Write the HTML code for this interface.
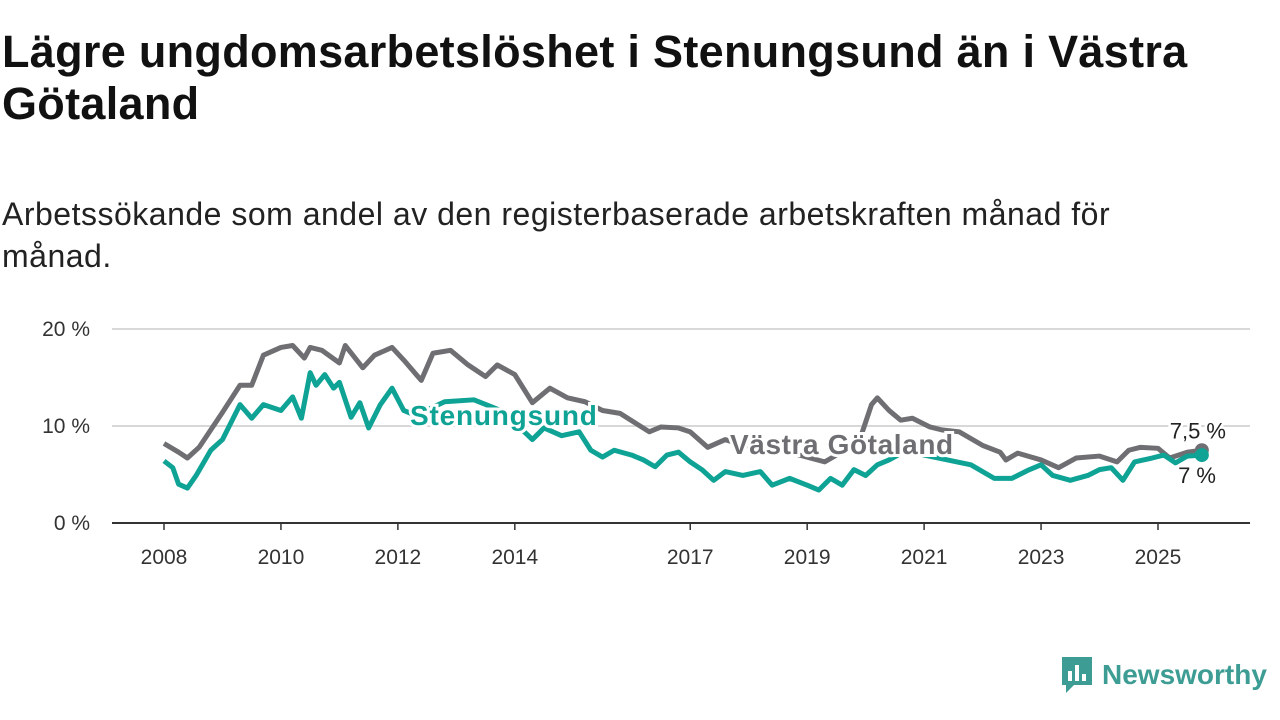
<!DOCTYPE html>
<html><head><meta charset="utf-8"><style>
body{margin:0;width:1280px;height:720px;background:#fff;font-family:"Liberation Sans",sans-serif;overflow:hidden;position:relative}
h1{position:absolute;left:2px;top:26px;margin:0;font-size:45px;line-height:52px;font-weight:bold;color:#111;width:1235px;letter-spacing:0.3px}
.sub{position:absolute;left:2px;top:193px;font-size:32px;line-height:42px;color:#222;width:1175px;letter-spacing:0.5px}
.logo{position:absolute;left:1060px;top:655px;display:flex;align-items:center;font-size:28px;font-weight:bold;color:#3d9d94}
</style></head><body>
<h1>Lägre ungdomsarbetslöshet i Stenungsund än i Västra Götaland</h1>
<div class="sub">Arbetssökande som andel av den registerbaserade arbetskraften månad för månad.</div>
<svg id="chart" width="1280" height="720" style="position:absolute;left:0;top:0"></svg>
<div class="logo"><svg width="34" height="40" viewBox="0 0 34 40"><path d="M2 2h30v28H14l-8 8v-8H2z" fill="#3d9d94"/><rect x="8" y="16" width="4" height="10" fill="#fff"/><rect x="15" y="10" width="4" height="16" fill="#fff"/><rect x="22" y="19" width="4" height="7" fill="#fff"/></svg><span style="margin-left:8px">Newsworthy</span></div>
<script>
const yTicks=[0,10,20];
const xTicks=[2008,2010,2012,2014,2017,2019,2021,2023,2025];
const vgT=[2008,2008.25,2008.4,2008.6,2009,2009.3,2009.5,2009.7,2010,2010.2,2010.4,2010.5,2010.7,2011,2011.1,2011.4,2011.6,2011.9,2012.1,2012.4,2012.6,2012.9,2013.2,2013.5,2013.7,2014,2014.3,2014.6,2014.9,2015.2,2015.5,2015.8,2016.3,2016.5,2016.8,2017,2017.3,2017.6,2017.9,2018.5,2019.3,2019.5,2019.9,2020.1,2020.2,2020.4,2020.6,2020.8,2021.1,2021.3,2021.6,2022,2022.3,2022.4,2022.6,2023,2023.3,2023.6,2024,2024.3,2024.5,2024.7,2025,2025.2,2025.5,2025.75];
const vgV=[8.2,7.3,6.7,7.8,11.4,14.2,14.2,17.3,18.1,18.3,17,18.1,17.8,16.5,18.3,16,17.3,18.1,16.8,14.7,17.5,17.8,16.3,15.1,16.3,15.3,12.4,13.9,12.9,12.5,11.6,11.3,9.4,9.9,9.8,9.4,7.8,8.6,8.0,7.6,6.3,7.0,8.6,12.2,12.9,11.6,10.6,10.8,9.9,9.6,9.4,8.0,7.3,6.5,7.2,6.5,5.7,6.7,6.9,6.3,7.5,7.8,7.7,6.7,7.3,7.5];
const stT=[2008,2008.15,2008.25,2008.4,2008.55,2008.8,2009,2009.3,2009.5,2009.7,2010,2010.2,2010.35,2010.5,2010.6,2010.75,2010.9,2011,2011.2,2011.35,2011.5,2011.7,2011.9,2012.1,2012.3,2012.8,2013.3,2013.8,2014.3,2014.5,2014.8,2015.1,2015.3,2015.5,2015.7,2016,2016.2,2016.4,2016.6,2016.8,2017,2017.2,2017.4,2017.6,2017.9,2018.2,2018.4,2018.7,2019,2019.2,2019.4,2019.6,2019.8,2020,2020.2,2020.4,2020.7,2021,2021.4,2021.8,2022.2,2022.5,2022.8,2023,2023.2,2023.5,2023.8,2024,2024.2,2024.4,2024.6,2024.9,2025.1,2025.3,2025.5,2025.75];
const stV=[6.4,5.7,4.0,3.6,4.9,7.5,8.6,12.2,10.8,12.2,11.6,13,10.8,15.5,14.2,15.3,13.9,14.5,10.9,12.4,9.8,12.2,13.9,11.6,11.1,12.5,12.7,11.5,8.6,9.8,9.0,9.4,7.5,6.8,7.5,7.0,6.5,5.8,7.0,7.3,6.3,5.5,4.4,5.3,4.9,5.3,3.9,4.6,3.9,3.4,4.6,3.9,5.5,4.9,6.0,6.5,7.5,7.0,6.5,6.0,4.6,4.6,5.5,6.0,4.9,4.4,4.9,5.5,5.7,4.4,6.3,6.7,7.0,6.2,6.9,7.0];
const NS="http://www.w3.org/2000/svg";
const svg=document.getElementById('chart');
const X=t=>164+(t-2008)*58.47, Y=v=>523-v*9.7;
function mk(tag,attrs){const e=document.createElementNS(NS,tag);for(const k in attrs)e.setAttribute(k,attrs[k]);svg.appendChild(e);return e;}
yTicks.forEach(v=>{
 if(v>0){const g=mk('line',{x1:112,x2:1250,y1:Y(v),y2:Y(v),stroke:'#d8d8d8','stroke-width':2});
 
 }
 const t=mk('text',{x:90,y:Y(v)+7,'text-anchor':'end','font-size':21,fill:'#333'});t.textContent=v+' %';
 
 
});
const ax=mk('line',{x1:112,x2:1250,y1:523,y2:523,stroke:'#333','stroke-width':2});


xTicks.forEach(yr=>{
 const tk=mk('line',{x1:X(yr),x2:X(yr),y1:523,y2:530,stroke:'#333','stroke-width':1.5});
 
 
 const t=mk('text',{x:X(yr),y:564,'text-anchor':'middle','font-size':21,fill:'#333'});t.textContent=yr;
 
 
});
function line(T,V,c,n){const p=mk('polyline',{points:T.map((t,i)=>X(t)+','+Y(V[i])).join(' '),fill:'none',stroke:c,'stroke-width':5,'stroke-linejoin':'round'});
 
 }
line(vgT,vgV,'#6f6e72','line-vastra-gotaland');
line(stT,stV,'#0fa396','line-stenungsund');
function lab(x,y,s,c,n,size,ls){const t=mk('text',{x:x,y:y,'font-size':size,'font-weight':'bold',fill:c,stroke:'#fff','stroke-width':6,'paint-order':'stroke','letter-spacing':ls});t.textContent=s;
 
 }
lab(410,425,'Stenungsund','#0fa396','label-stenungsund',28,0.8);
lab(730,454,'Västra Götaland','#6f6e72','label-vastra-gotaland',28,0.6);
const lt=vgT.length-1, ls=stT.length-1;
const d1=mk('circle',{cx:X(vgT[lt]),cy:Y(vgV[lt]),r:7,fill:'#6f6e72'});


const d2=mk('circle',{cx:X(stT[ls]),cy:Y(stV[ls]),r:7,fill:'#0fa396'});


const e1=mk('text',{x:1226,y:Y(vgV[lt])-12,'text-anchor':'end','font-size':22,fill:'#222',stroke:'#fff','stroke-width':5,'paint-order':'stroke'});e1.textContent='7,5 %';


const e2=mk('text',{x:1216,y:Y(stV[ls])+28,'text-anchor':'end','font-size':22,fill:'#222',stroke:'#fff','stroke-width':5,'paint-order':'stroke'});e2.textContent='7 %';


</script>
</body></html>
